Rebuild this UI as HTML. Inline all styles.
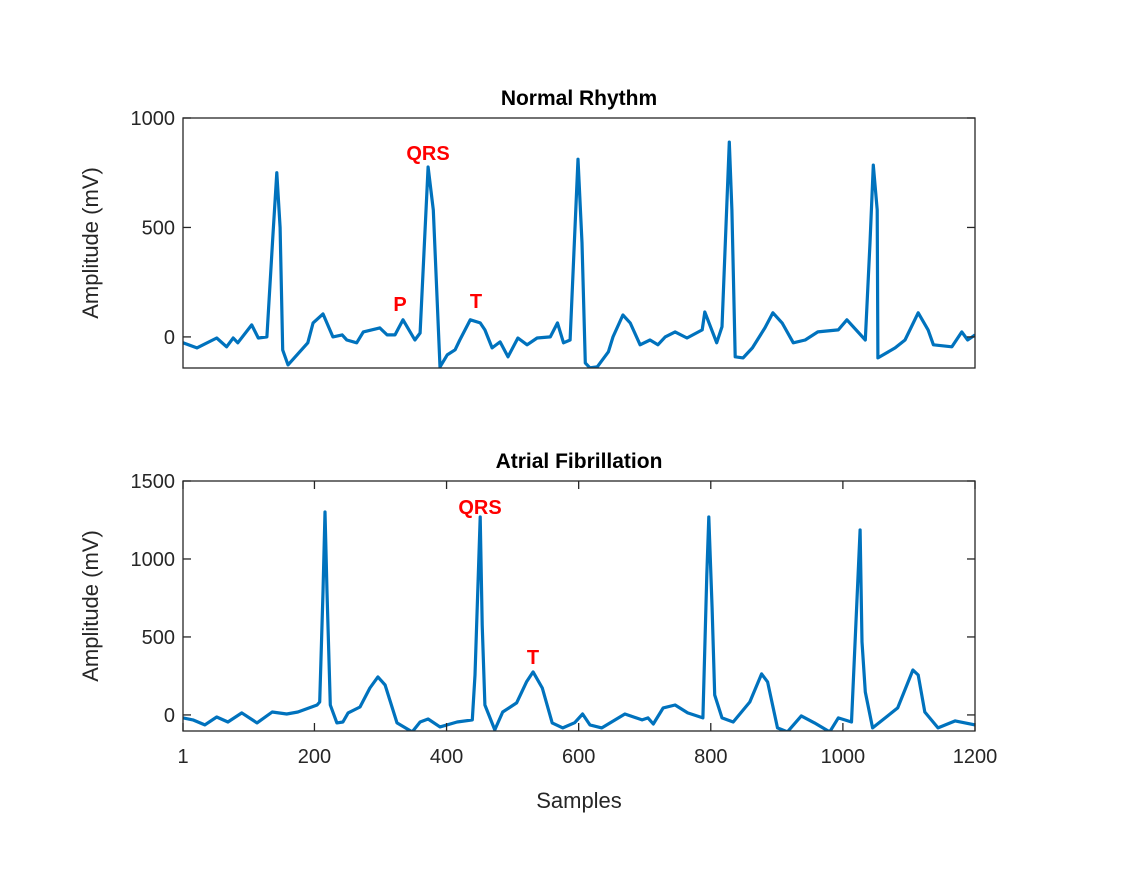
<!DOCTYPE html>
<html><head><meta charset="utf-8"><style>
body{margin:0;background:#fff;}
svg text{font-family:"Liberation Sans",Arial,sans-serif;}
</style></head><body>
<svg id="fig" width="1121" height="869" xmlns="http://www.w3.org/2000/svg">
<rect width="1121" height="869" fill="#fff"/>
</svg>
<script>
const topSamples=[1,22,52,67,77,84,105,115,128,137,143,148,152,160,190,198,213,228,242,249,264,274,299,310,322,334,352,360,372,380,390,401,413,420,436,451,458,469,481,493,508,522,537,557,568,577,587,599,605,610,617,628,645,652,667,678,693,708,720,731,746,764,787,791,809,817,828,832,837,849,863,882,894,908,925,943,962,993,1006,1034,1041,1046,1052,1053,1079,1094,1114,1129,1137,1165,1180,1189,1200];
const topValues=[-27,-50,-5,-45,-5,-27,55,-5,0,455,750,500,-60,-128,-27,64,105,0,9,-14,-27,23,41,9,9,78,-14,18,776,580,-137,-82,-59,-14,78,64,32,-50,-23,-91,-5,-36,-5,0,64,-27,-14,812,430,-119,-141,-137,-68,0,100,64,-36,-14,-36,0,23,-5,32,114,-27,46,890,580,-91,-96,-50,41,110,64,-27,-14,23,32,78,-14,430,785,580,-96,-50,-14,110,32,-36,-45,23,-14,9];
const botSamples=[1,16,34,52,69,90,113,136,158,175,204,208,213,216,219,224,234,243,251,269,284,296,307,325,348,360,372,390,416,439,443,451,454,458,473,485,506,521,531,545,560,576,594,606,617,635,670,696,705,713,728,746,765,788,794,797,802,806,817,834,859,877,886,901,916,937,957,980,993,1013,1026,1029,1034,1045,1064,1083,1106,1114,1124,1144,1170,1200];
const botValues=[-19,-32,-64,-13,-45,13,-51,19,6,19,64,83,788,1301,788,64,-51,-45,13,51,173,244,192,-51,-109,-45,-26,-77,-45,-32,256,1269,577,64,-96,19,77,212,276,173,-51,-83,-50,6,-64,-83,6,-32,-19,-58,45,64,13,-19,897,1269,686,128,-19,-45,83,263,212,-83,-109,-6,-51,-109,-19,-45,1186,468,147,-83,-19,45,288,256,19,-83,-38,-64];
const xTicks=[1,200,400,600,800,1000,1200];
const topYTicks=[0,500,1000];
const botYTicks=[0,500,1000,1500];

const NS="http://www.w3.org/2000/svg";
const svg=document.getElementById('fig');
function mk(tag,attrs,parent){const e=document.createElementNS(NS,tag);for(const k in attrs)e.setAttribute(k,attrs[k]);(parent||svg).appendChild(e);return e;}
const L=183,R=975;
const xs=s=>L+(s-1)*(R-L)/1199;

function panel(name,top,bottom,ymin,ymax,yt,samples,values,title,showX){
  const ys=v=>bottom-(v-ymin)*(bottom-top)/(ymax-ymin);
  const g=mk('g',{});
  
  
  let d='';
  samples.forEach((s,i)=>{d+=(i?'L':'M')+xs(s).toFixed(1)+','+ys(values[i]).toFixed(1);});
  const clip=mk('clipPath',{id:'c'+name},g);mk('rect',{x:L,y:top,width:R-L,height:bottom-top},clip);
  const p=mk('path',{d:d,fill:'none',stroke:'#0072BD','stroke-width':3.2,'stroke-linejoin':'round','clip-path':'url(#c'+name+')'},g);
  
  
  const box=mk('rect',{x:L,y:top,width:R-L,height:bottom-top,fill:'none',stroke:'#262626','stroke-width':1.3},g);
  
  
  yt.forEach(v=>{
    const y=ys(v);
    mk('line',{x1:L,x2:L+8,y1:y,y2:y,stroke:'#262626','stroke-width':1.3},g);
    mk('line',{x1:R-8,x2:R,y1:y,y2:y,stroke:'#262626','stroke-width':1.3},g);
    const t=mk('text',{x:L-8,y:y+7,'text-anchor':'end','font-size':20,fill:'#262626'},g);
    t.textContent=v;
    
    
  });
  if(showX){
    xTicks.forEach(s=>{
      const x=xs(s);
      mk('line',{x1:x,x2:x,y1:bottom,y2:bottom-8,stroke:'#262626','stroke-width':1.3},g);
      mk('line',{x1:x,x2:x,y1:top,y2:top+8,stroke:'#262626','stroke-width':1.3},g);
      const t=mk('text',{x:x,y:bottom+32,'text-anchor':'middle','font-size':20,fill:'#262626'},g);
      t.textContent=s;
      
      
    });
  }
  const tt=mk('text',{x:579,y:top-13,'text-anchor':'middle','font-size':21,'font-weight':'bold',fill:'#000'},g);
  tt.textContent=title;
  
  
  const yl=mk('text',{transform:'translate(98,'+((top+bottom)/2)+') rotate(-90)','text-anchor':'middle','font-size':22,fill:'#262626'},g);
  yl.textContent='Amplitude (mV)';
  
  
}
panel('normal',118,368,-142,1000,topYTicks,topSamples,topValues,'Normal Rhythm',false);
panel('afib',481,731,-103,1500,botYTicks,botSamples,botValues,'Atrial Fibrillation',true);

const xl=mk('text',{x:579,y:808,'text-anchor':'middle','font-size':22,fill:'#262626'});
xl.textContent='Samples';



[['QRS',428,160,'qrs-label-normal'],['P',400,311,'p-label-normal'],['T',476,308,'t-label-normal'],['QRS',480,514,'qrs-label-afib'],['T',533,664,'t-label-afib']].forEach(a=>{
  const t=mk('text',{x:a[1],y:a[2],'text-anchor':'middle','font-size':20,'font-weight':'bold',fill:'#FF0000'});
  t.textContent=a[0];
  
  
});
</script>
</body></html>
